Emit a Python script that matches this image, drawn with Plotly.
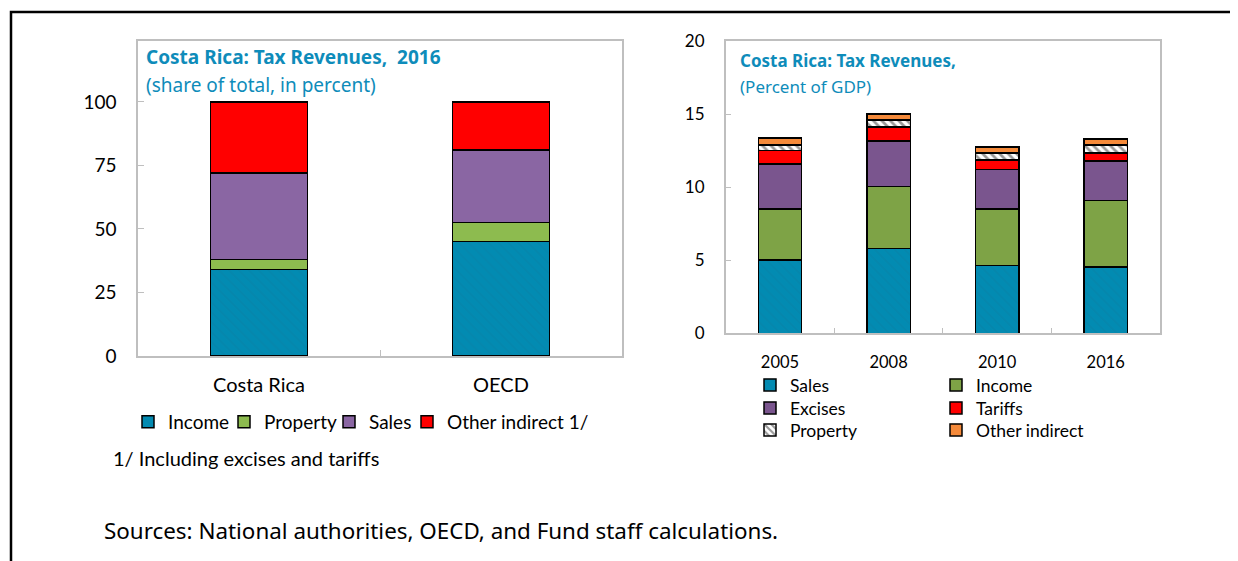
import plotly.graph_objects as go

# The page body adds an 8px margin; the figure is sized/offset to compensate
OFF = 8
W, H = 1238 - OFF, 561 - OFF

# ---------------- data ----------------
left_categories = ["Costa Rica", "OECD"]
left_income = [34.0, 45.0]
left_property = [4.0, 7.5]
left_sales = [34.0, 28.5]
left_other = [28.0, 19.0]
left_yticks = [0, 25, 50, 75, 100]

right_years = ["2005", "2008", "2010", "2016"]
right_sales = [5.0, 5.8, 4.65, 4.55]
right_income = [3.5, 4.25, 3.85, 4.55]
right_excises = [3.1, 3.1, 2.7, 2.7]
right_tariffs = [0.9, 0.95, 0.65, 0.55]
right_property = [0.4, 0.5, 0.5, 0.55]
right_other = [0.45, 0.4, 0.4, 0.4]
right_yticks = [0, 5, 10, 15, 20]

# ---------------- helpers (target screen pixels -> paper) ----------------
def px_x(v):
    return (v - OFF) / W

def px_y(v):
    return 1 - (v - OFF) / H

BLUE = "#028BB2"
GREEN_L = "#8DBB4F"
PURPLE_L = "#8A66A3"
GREEN_R = "#7EA346"
PURPLE_R = "#7A558E"
RED = "#FF0000"
ORANGE = "#F58A3A"
TEAL_TXT = "#0E8CBA"
FRAME = "#BFBFBF"
CAL = "Lato, 'Noto Sans', sans-serif"
SEG = "'Noto Sans', 'Open Sans', sans-serif"

line = dict(color="black", width=1.5)
income_pattern = dict(shape="\\", fgcolor="#0A82A6", bgcolor=BLUE, size=7, solidity=0.25)

fig = go.Figure()

# Left chart
fig.add_bar(x=left_categories, y=left_income, name="Income", xaxis="x", yaxis="y",
            marker=dict(color=BLUE, line=line, pattern=income_pattern),
            legend="legend", legendwidth=51)
fig.add_bar(x=left_categories, y=left_property, name="Property", xaxis="x", yaxis="y",
            marker=dict(color=GREEN_L, line=line), legend="legend", legendwidth=60)
fig.add_bar(x=left_categories, y=left_sales, name="Sales", xaxis="x", yaxis="y",
            marker=dict(color=PURPLE_L, line=line), legend="legend", legendwidth=33)
fig.add_bar(x=left_categories, y=left_other, name="Other indirect 1/", xaxis="x", yaxis="y",
            marker=dict(color=RED, line=line), legend="legend")

# Right chart
fig.add_bar(x=right_years, y=right_sales, name="Sales", xaxis="x2", yaxis="y2",
            marker=dict(color=BLUE, line=line, pattern=income_pattern),
            legend="legend2", legendwidth=141)
fig.add_bar(x=right_years, y=right_income, name="Income", xaxis="x2", yaxis="y2",
            marker=dict(color=GREEN_R, line=line), legend="legend2")
fig.add_bar(x=right_years, y=right_excises, name="Excises", xaxis="x2", yaxis="y2",
            marker=dict(color=PURPLE_R, line=line), legend="legend3", legendwidth=141)
fig.add_bar(x=right_years, y=right_tariffs, name="Tariffs", xaxis="x2", yaxis="y2",
            marker=dict(color=RED, line=line), legend="legend3")
fig.add_bar(x=right_years, y=right_property, name="Property", xaxis="x2", yaxis="y2",
            marker=dict(color="white", line=line,
                        pattern=dict(shape="\\", fgcolor="#333333", bgcolor="white", size=6, solidity=0.45)),
            legend="legend4", legendwidth=141)
fig.add_bar(x=right_years, y=right_other, name="Other indirect", xaxis="x2", yaxis="y2",
            marker=dict(color=ORANGE, line=line), legend="legend4")

axis_common = dict(showline=True, mirror=True, linecolor=FRAME, linewidth=1.5,
                   showgrid=False, zeroline=False, ticks="inside", tickcolor=FRAME,
                   ticklen=6, tickwidth=1, automargin=False)

def hleg(x, y, size):
    return dict(orientation="h", x=px_x(x), xanchor="left", y=px_y(y), yanchor="middle",
                font=dict(family=CAL, size=size), bgcolor="rgba(0,0,0,0)",
                traceorder="normal", borderwidth=0)

fig.update_layout(
    width=W, height=H,
    margin=dict(l=0, r=0, t=0, b=0, autoexpand=False),
    paper_bgcolor="white", plot_bgcolor="white",
    barmode="stack", bargap=0.6,
    font=dict(family=CAL, color="black"),
    xaxis=dict(domain=[px_x(138), px_x(622)], anchor="y", tickson="boundaries",
               range=[-0.5, 1.5], tickfont=dict(family=CAL, size=20), ticklabelstandoff=10,
               **axis_common),
    yaxis=dict(domain=[px_y(356), px_y(40.7)], anchor="x", range=[0, 124.1],
               tickvals=left_yticks, tickfont=dict(family=CAL, size=19), ticklabelstandoff=16,
               **axis_common),
    xaxis2=dict(domain=[px_x(725.7), px_x(1160)], anchor="y2", tickson="boundaries",
                range=[-0.5, 3.5], tickfont=dict(family=CAL, size=16.5), ticklabelstandoff=13,
                **axis_common),
    yaxis2=dict(domain=[px_y(333.3), px_y(41)], anchor="x2", range=[0, 20],
                tickvals=right_yticks, tickfont=dict(family=CAL, size=17), ticklabelstandoff=16,
                **axis_common),
    legend=hleg(128, 422, 19),
    legend2=hleg(750, 385, 17.5),
    legend3=hleg(750, 408, 17.5),
    legend4=hleg(750, 430, 17.5),
    showlegend=True,
)

fig.update_layout(
    annotations=[
        dict(text="<b>Costa Rica: Tax Revenues,&nbsp; 2016</b>", x=px_x(144), y=px_y(57),
             xref="paper", yref="paper", xanchor="left", yanchor="middle", showarrow=False,
             font=dict(family=SEG, size=19, color=TEAL_TXT)),
        dict(text="(share of total, in percent)", x=px_x(144), y=px_y(85),
             xref="paper", yref="paper", xanchor="left", yanchor="middle", showarrow=False,
             font=dict(family=SEG, size=19, color=TEAL_TXT)),
        dict(text="<b>Costa Rica: Tax Revenues,</b>", x=px_x(738), y=px_y(60),
             xref="paper", yref="paper", xanchor="left", yanchor="middle", showarrow=False,
             font=dict(family=SEG, size=17, color=TEAL_TXT)),
        dict(text="(Percent of GDP)", x=px_x(738), y=px_y(86),
             xref="paper", yref="paper", xanchor="left", yanchor="middle", showarrow=False,
             font=dict(family=SEG, size=17, color=TEAL_TXT)),
        dict(text="1/ Including excises and tariffs", x=px_x(111), y=px_y(458),
             xref="paper", yref="paper", xanchor="left", yanchor="middle", showarrow=False,
             font=dict(family=CAL, size=20, color="black")),
        dict(text="Sources: National authorities, OECD, and Fund staff calculations.",
             x=px_x(102), y=px_y(530),
             xref="paper", yref="paper", xanchor="left", yanchor="middle", showarrow=False,
             font=dict(family=SEG, size=22.4, color="black")),
    ],
    shapes=[
        dict(type="path", xref="paper", yref="paper",
             path=f"M {px_x(11)},{px_y(561)} L {px_x(11)},{px_y(12)} L {px_x(1238)},{px_y(12)}",
             line=dict(color="black", width=2.5)),
    ],
)

fig.write_html("out.html")
